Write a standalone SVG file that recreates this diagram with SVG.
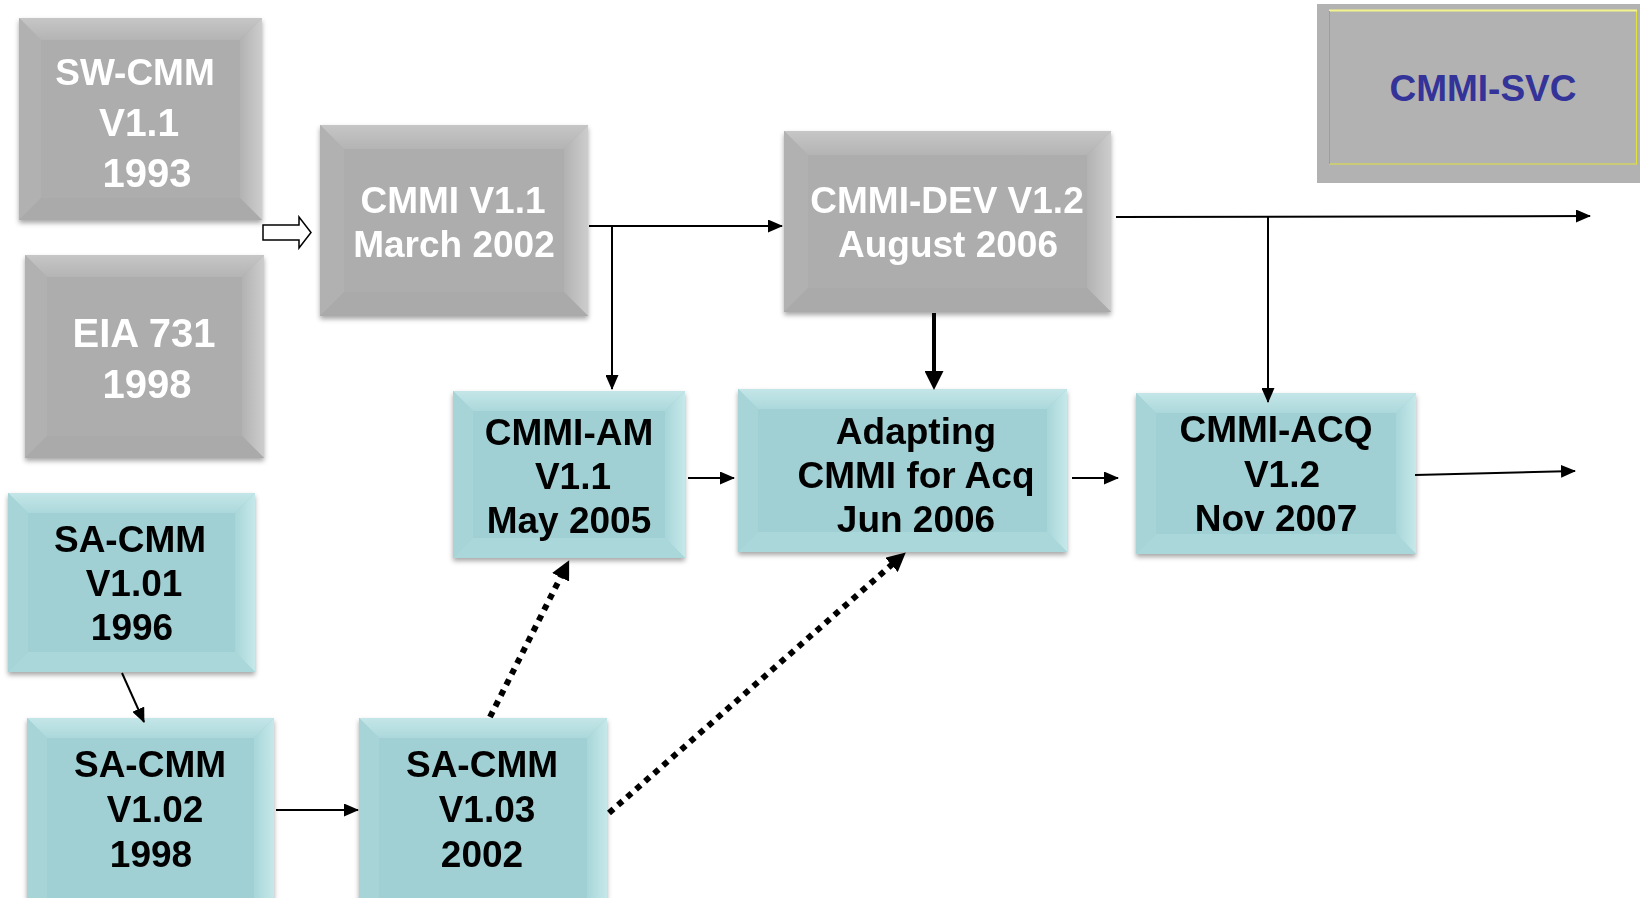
<svg xmlns="http://www.w3.org/2000/svg" width="1640" height="898" viewBox="0 0 1640 898">
<defs>
<filter id="sh" x="-10%" y="-10%" width="120%" height="125%"><feDropShadow dx="0" dy="3" stdDeviation="2.5" flood-color="#000" flood-opacity="0.35"/></filter>
<marker id="ah" viewBox="0 0 15 13" refX="14" refY="6.5" markerWidth="15" markerHeight="13" markerUnits="userSpaceOnUse" orient="auto"><path d="M0,0 L15,6.5 L0,13 z" fill="#000"/></marker>
<marker id="ahb" viewBox="0 0 19 19" refX="2" refY="9.5" markerWidth="19" markerHeight="19" markerUnits="userSpaceOnUse" orient="auto"><path d="M0,0 L19,9.5 L0,19 z" fill="#000"/></marker>
<linearGradient id="gR" x1="0" y1="0" x2="1" y2="0"><stop offset="0" stop-color="#b2b2b2"/><stop offset="1" stop-color="#cdcdcd"/></linearGradient>
<linearGradient id="gT" x1="0" y1="1" x2="0" y2="0"><stop offset="0" stop-color="#b4b4b4"/><stop offset="1" stop-color="#c6c6c6"/></linearGradient>
<linearGradient id="tR" x1="0" y1="0" x2="1" y2="0"><stop offset="0" stop-color="#a8d6d9"/><stop offset="1" stop-color="#c6e8ea"/></linearGradient>
<linearGradient id="tT" x1="0" y1="1" x2="0" y2="0"><stop offset="0" stop-color="#acd8db"/><stop offset="1" stop-color="#c4e6e8"/></linearGradient>
</defs>
<style>
.g0{fill:#adadad}.g1{fill:url(#gT)}.g2{fill:#b1b1b1}.g3{fill:url(#gR)}.g4{fill:#aaaaaa}
.t0{fill:#a0d0d4}.t1{fill:url(#tT)}.t2{fill:#a6d4d7}.t3{fill:url(#tR)}.t4{fill:#aad7da}
text{font-family:"Liberation Sans",Arial,sans-serif;font-weight:bold;text-anchor:middle}
.w{fill:#fff}.k{fill:#000}
.ln{stroke:#000;stroke-width:2;fill:none}
.dot{stroke:#000;stroke-width:6;stroke-dasharray:6 6;fill:none}
</style>
<rect width="1640" height="898" fill="#fff"/>

<g id="n-swcmm" filter="url(#sh)">
<rect class="g0" x="19" y="18" width="243" height="202"/>
<polygon class="g1" points="19,18 262,18 240,40 41,40"/>
<polygon class="g2" points="19,18 41,40 41,198 19,220"/>
<polygon class="g3" points="262,18 262,220 240,198 240,40"/>
<polygon class="g4" points="19,220 41,198 240,198 262,220"/>
<text class="w" x="135" y="85" font-size="37">SW-CMM</text>
<text class="w" x="139" y="136" font-size="39">V1.1</text>
<text class="w" x="147" y="187" font-size="40">1993</text>
</g>

<g id="n-eia" filter="url(#sh)">
<rect class="g0" x="25" y="255" width="239" height="203"/>
<polygon class="g1" points="25,255 264,255 242,277 47,277"/>
<polygon class="g2" points="25,255 47,277 47,436 25,458"/>
<polygon class="g3" points="264,255 264,458 242,436 242,277"/>
<polygon class="g4" points="25,458 47,436 242,436 264,458"/>
<text class="w" x="144" y="347" font-size="40">EIA 731</text>
<text class="w" x="147" y="398" font-size="40">1998</text>
</g>

<g id="n-cmmi11" filter="url(#sh)">
<rect class="g0" x="320" y="125" width="268" height="191"/>
<polygon class="g1" points="320,125 588,125 564,149 344,149"/>
<polygon class="g2" points="320,125 344,149 344,292 320,316"/>
<polygon class="g3" points="588,125 588,316 564,292 564,149"/>
<polygon class="g4" points="320,316 344,292 564,292 588,316"/>
<text class="w" x="453" y="213" font-size="37">CMMI V1.1</text>
<text class="w" x="454" y="257" font-size="37">March 2002</text>
</g>

<g id="n-dev" filter="url(#sh)">
<rect class="g0" x="784" y="131" width="327" height="181"/>
<polygon class="g1" points="784,131 1111,131 1087,155 808,155"/>
<polygon class="g2" points="784,131 808,155 808,288 784,312"/>
<polygon class="g3" points="1111,131 1111,312 1087,288 1087,155"/>
<polygon class="g4" points="784,312 808,288 1087,288 1111,312"/>
<text class="w" x="947" y="213" font-size="37">CMMI-DEV V1.2</text>
<text class="w" x="948" y="257" font-size="37">August 2006</text>
</g>

<g id="n-svc">
<rect x="1317" y="4" width="323" height="179" fill="#b2b2b2"/>
<rect x="1329.5" y="10.5" width="307" height="153.5" fill="none" stroke="#e2e23c" stroke-width="1"/>
<line x1="1329" y1="10.5" x2="1637" y2="10.5" stroke="#f4f48c" stroke-width="2"/>
<line x1="1329.5" y1="11" x2="1329.5" y2="164" stroke="#a8a848" stroke-width="1"/>
<text x="1483" y="101" font-size="37" fill="#333399">CMMI-SVC</text>
</g>

<g id="n-am" filter="url(#sh)">
<rect class="t0" x="453" y="391" width="232" height="167"/>
<polygon class="t1" points="453,391 685,391 665,411 473,411"/>
<polygon class="t2" points="453,391 473,411 473,538 453,558"/>
<polygon class="t3" points="685,391 685,558 665,538 665,411"/>
<polygon class="t4" points="453,558 473,538 665,538 685,558"/>
<text class="k" x="569" y="445" font-size="37">CMMI-AM</text>
<text class="k" x="573" y="489" font-size="37">V1.1</text>
<text class="k" x="569" y="533" font-size="37">May 2005</text>
</g>

<g id="n-adapt" filter="url(#sh)">
<rect class="t0" x="738" y="389" width="329" height="163"/>
<polygon class="t1" points="738,389 1067,389 1047,409 758,409"/>
<polygon class="t2" points="738,389 758,409 758,532 738,552"/>
<polygon class="t3" points="1067,389 1067,552 1047,532 1047,409"/>
<polygon class="t4" points="738,552 758,532 1047,532 1067,552"/>
<text class="k" x="916" y="444" font-size="37">Adapting</text>
<text class="k" x="916" y="488" font-size="37">CMMI for Acq</text>
<text class="k" x="916" y="532" font-size="37">Jun 2006</text>
</g>

<g id="n-acq" filter="url(#sh)">
<rect class="t0" x="1136" y="393" width="280" height="161"/>
<polygon class="t1" points="1136,393 1416,393 1396,413 1156,413"/>
<polygon class="t2" points="1136,393 1156,413 1156,534 1136,554"/>
<polygon class="t3" points="1416,393 1416,554 1396,534 1396,413"/>
<polygon class="t4" points="1136,554 1156,534 1396,534 1416,554"/>
<text class="k" x="1276" y="442" font-size="37">CMMI-ACQ</text>
<text class="k" x="1282" y="487" font-size="37">V1.2</text>
<text class="k" x="1276" y="531" font-size="37">Nov 2007</text>
</g>

<g id="n-sa101" filter="url(#sh)">
<rect class="t0" x="8" y="493" width="247" height="179"/>
<polygon class="t1" points="8,493 255,493 235,513 28,513"/>
<polygon class="t2" points="8,493 28,513 28,652 8,672"/>
<polygon class="t3" points="255,493 255,672 235,652 235,513"/>
<polygon class="t4" points="8,672 28,652 235,652 255,672"/>
<text class="k" x="130" y="552" font-size="37">SA-CMM</text>
<text class="k" x="134" y="596" font-size="37">V1.01</text>
<text class="k" x="132" y="640" font-size="37">1996</text>
</g>

<g id="n-sa102" filter="url(#sh)">
<rect class="t0" x="27" y="718" width="247" height="202"/>
<polygon class="t1" points="27,718 274,718 254,738 47,738"/>
<polygon class="t2" points="27,718 47,738 47,900 27,920"/>
<polygon class="t3" points="274,718 274,920 254,900 254,738"/>
<text class="k" x="150" y="777" font-size="37">SA-CMM</text>
<text class="k" x="155" y="822" font-size="37">V1.02</text>
<text class="k" x="151" y="867" font-size="37">1998</text>
</g>

<g id="n-sa103" filter="url(#sh)">
<rect class="t0" x="359" y="718" width="248" height="202"/>
<polygon class="t1" points="359,718 607,718 587,738 379,738"/>
<polygon class="t2" points="359,718 379,738 379,900 359,920"/>
<polygon class="t3" points="607,718 607,920 587,900 587,738"/>
<text class="k" x="482" y="777" font-size="37">SA-CMM</text>
<text class="k" x="487" y="822" font-size="37">V1.03</text>
<text class="k" x="482" y="867" font-size="37">2002</text>
</g>

<g id="connectors">
<polygon points="263,225 299,225 299,217 311,232.5 299,248 299,240 263,240" fill="#fff" stroke="#000" stroke-width="1.5" stroke-linejoin="miter"/>
<line class="ln" x1="589" y1="226" x2="782" y2="226" marker-end="url(#ah)"/>
<line class="ln" x1="612" y1="226" x2="612" y2="389" marker-end="url(#ah)"/>
<line class="ln" x1="1116" y1="217" x2="1590" y2="216" marker-end="url(#ah)"/>
<line class="ln" x1="1268" y1="217" x2="1268" y2="402" marker-end="url(#ah)"/>
<line x1="934" y1="313" x2="934" y2="373" stroke="#000" stroke-width="4" marker-end="url(#ahb)"/>
<line class="ln" x1="688" y1="478" x2="734" y2="478" marker-end="url(#ah)"/>
<line class="ln" x1="1072" y1="478" x2="1118" y2="478" marker-end="url(#ah)"/>
<line class="ln" x1="1415" y1="475" x2="1575" y2="471" marker-end="url(#ah)"/>
<line class="ln" x1="122" y1="673" x2="144" y2="722" stroke-width="1.5" marker-end="url(#ah)"/>
<line class="ln" x1="276" y1="810" x2="358" y2="810" marker-end="url(#ah)"/>
<line class="dot" x1="490" y1="717" x2="561.5" y2="575.5" marker-end="url(#ahb)"/>
<line class="dot" x1="609" y1="813" x2="893" y2="563.6" marker-end="url(#ahb)"/>
</g>
</svg>
